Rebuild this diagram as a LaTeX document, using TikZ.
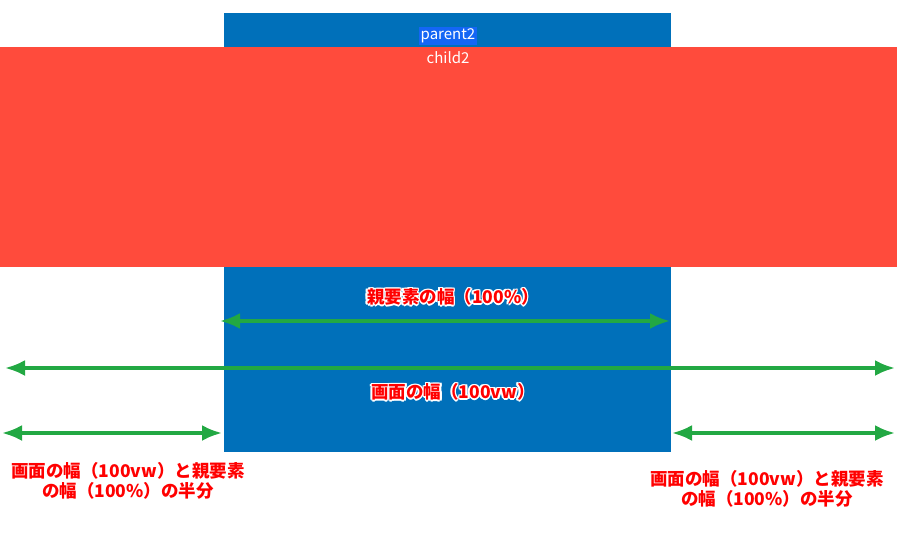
\documentclass[tikz,border=0pt]{standalone}
\usepackage{fontspec}
\setmainfont{Noto Sans CJK JP}
\usetikzlibrary{arrows.meta,calc}
\definecolor{bl}{HTML}{0070BA}
\definecolor{rd}{HTML}{FF4B3C}
\definecolor{gr}{HTML}{22A843}
\definecolor{lb}{HTML}{1466F5}
\tikzset{
 arr/.style={gr,line width=3.5pt,{Latex[length=20pt,width=16pt]}-{Latex[length=20pt,width=16pt]}},
 lab/.style={font=\fontsize{17.5}{20}\selectfont\bfseries,align=center,text=red,inner sep=1pt},
 halo/.style={lab,text=white},
}
\newcommand{\olabel}[3]{%
 \foreach \dx/\dy in {-1.6/0,1.6/0,0/-1.6,0/1.6,-1.2/-1.2,1.2/1.2,-1.2/1.2,1.2/-1.2}{
   \node[halo] at ($(#1)+(\dx,\dy)$) {#3};}
 \node[lab] (#2) at (#1) {#3};}
\begin{document}
\begin{tikzpicture}[x=1pt,y=-1pt]
\useasboundingbox (0,0) rectangle (920,539);
\fill[white] (0,0) rectangle (920,539);
\fill[bl] (224,13) rectangle (671,452);
\fill[rd] (0,47) rectangle (897,267);
\node[fill=lb,text=white,inner sep=1.5pt,font=\fontsize{15}{17}\selectfont] (p) at (448,36) {parent2};
\node[text=white,inner sep=1pt,font=\fontsize{15}{17}\selectfont] (c) at (448,58) {child2};
\coordinate (a1) at (220,321); \coordinate (a2) at (670,321);
\coordinate (b1) at (5,368); \coordinate (b2) at (895,368);
\coordinate (c1) at (2,433); \coordinate (c2) at (222,433);
\coordinate (d1) at (672,433); \coordinate (d2) at (895,433);
\draw[arr] (a1) -- (a2);
\draw[arr] (b1) -- (b2);
\draw[arr] (c1) -- (c2);
\draw[arr] (d1) -- (d2);
\coordinate (l1) at (453,297);
\coordinate (l2) at (453,392);
\coordinate (l3) at (128,481);
\coordinate (l4) at (767,489);
\olabel{l1}{t1}{親要素の幅（100\%）}
\olabel{l2}{t2}{画面の幅（100vw）}
\olabel{l3}{t3}{画面の幅（100vw）と親要素\\の幅（100\%）の半分}
\olabel{l4}{t4}{画面の幅（100vw）と親要素\\の幅（100\%）の半分}
\end{tikzpicture}
\end{document}
